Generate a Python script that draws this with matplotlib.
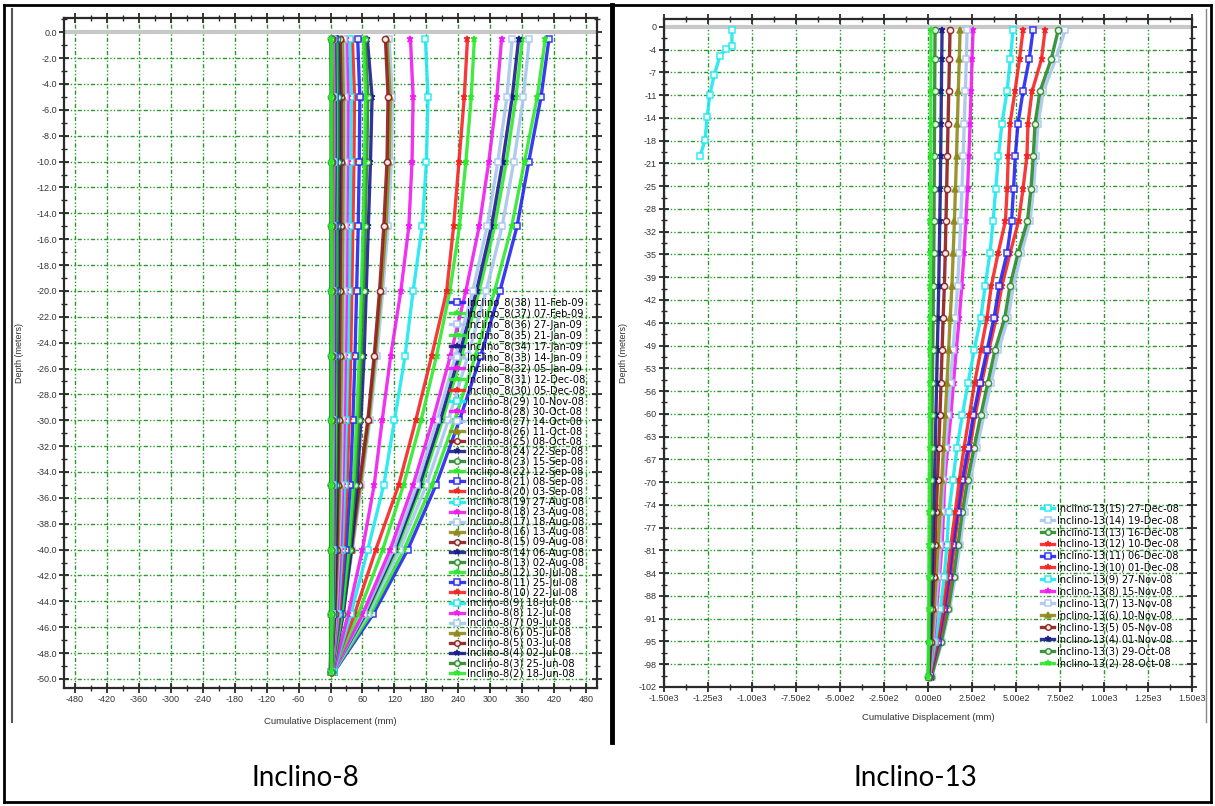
import numpy as np
import matplotlib.pyplot as plt
from matplotlib.lines import Line2D
from matplotlib.ticker import MultipleLocator, FixedLocator, AutoMinorLocator, FuncFormatter

plt.rcParams['font.family'] = ['Liberation Sans', 'DejaVu Sans']

W, H = 1215, 806

# ---------------- Inclino-8 (depth in m, displacement in mm) ----------------
depth_8 = [0.5, 5, 10, 15, 20, 25, 30, 35, 40, 45, 49.5]

labels_8 = [
    "Inclino_8(38) 11-Feb-09", "Inclino_8(37) 07-Feb-09", "Inclino_8(36) 27-Jan-09",
    "Inclino_8(35) 21-Jan-09", "Inclino_8(34) 17-Jan-09", "Inclino_8(33) 14-Jan-09",
    "Inclino_8(32) 05-Jan-09", "Inclino_8(31) 12-Dec-08", "Inclino_8(30) 05-Dec-08",
    "Inclino-8(29) 10-Nov-08", "Inclino-8(28) 30-Oct-08", "Inclino-8(27) 14-Oct-08",
    "Inclino-8(26) 11-Oct-08", "Inclino-8(25) 08-Oct-08", "Inclino-8(24) 22-Sep-08",
    "Inclino-8(23) 15-Sep-08", "Inclino-8(22) 12-Sep-08", "Inclino-8(21) 08-Sep-08",
    "Inclino-8(20) 03-Sep-08", "Inclino-8(19) 27-Aug-08", "Inclino-8(18) 23-Aug-08",
    "Inclino-8(17) 18-Aug-08", "Inclino-8(16) 13-Aug-08", "Inclino-8(15) 09-Aug-08",
    "Inclino-8(14) 06-Aug-08", "Inclino-8(13) 02-Aug-08", "Inclino-8(12) 30-Jul-08",
    "Inclino-8(11) 25-Jul-08", "Inclino-8(10) 22-Jul-08", "Inclino-8(9) 18-Jul-08",
    "Inclino-8(8) 12-Jul-08", "Inclino-8(7) 09-Jul-08", "Inclino-8(6) 05-Jul-08",
    "Inclino-8(5) 03-Jul-08", "Inclino-8(4) 02-Jul-08", "Inclino-8(3) 25-Jun-08",
    "Inclino-8(2) 18-Jun-08",
]

colors_8 = [
    "blue", "lime", "lightblue", "lime", "navy", "lightblue", "magenta", "lime", "red",
    "cyan", "magenta", "lightblue", "olive", "darkred", "navy", "darkgreen", "lime",
    "blue", "red", "cyan", "magenta", "lightblue", "olive", "darkred", "navy",
    "darkgreen", "lime", "blue", "red", "cyan", "magenta", "lightblue", "olive",
    "darkred", "navy", "darkgreen", "lime",
]

disp_8 = [
    [410, 395, 372, 350, 318, 282, 242, 198, 145, 80, 6],   # 38
    [403, 388, 364, 340, 308, 272, 233, 190, 138, 75, 5],   # 37
    [373, 362, 344, 322, 292, 258, 221, 180, 130, 70, 5],   # 36
    [360, 348, 330, 308, 279, 246, 210, 171, 124, 67, 4],   # 35
    [353, 341, 323, 302, 274, 241, 206, 167, 121, 65, 4],   # 34
    [341, 331, 314, 294, 267, 235, 200, 162, 118, 63, 4],   # 33
    [321, 312, 297, 279, 254, 225, 192, 155, 112, 60, 4],   # 32
    [270, 264, 254, 242, 224, 199, 170, 137, 98, 52, 3],    # 31
    [257, 251, 241, 231, 218, 190, 160, 128, 85, 45, 3],    # 30
    [178, 183, 180, 172, 155, 140, 120, 100, 70, 38, 6],    # 29
    [150, 155, 153, 147, 132, 113, 97, 82, 60, 33, 5],      # 28
    [110, 116, 114, 108, 98, 87, 74, 58, 41, 23, 3],        # 27
    [106, 112, 110, 104, 95, 84, 72, 56, 40, 22, 3],        # 26
    [103, 108, 106, 100, 92, 82, 70, 54, 38, 21, 3],        # 25
    [69, 78, 75, 71, 67, 63, 57, 50, 39, 24, 3],            # 24
    [65, 70, 68, 65, 62, 58, 53, 46, 36, 22, 3],            # 23
    [62, 66, 64, 61, 58, 54, 49, 43, 34, 21, 3],            # 22
    [51, 55, 54, 52, 49, 46, 42, 37, 29, 18, 2],            # 21
    [41, 45, 44, 42, 40, 38, 35, 31, 25, 16, 2],            # 20
    [36, 39, 38, 37, 35, 33, 30, 27, 22, 14, 2],            # 19
    [30, 33, 32, 31, 30, 28, 26, 23, 19, 12, 2],            # 18
    [26, 28, 28, 27, 26, 24, 22, 20, 16, 10, 1],            # 17
    [22, 24, 24, 23, 22, 21, 19, 17, 14, 9, 1],             # 16
    [18, 20, 20, 19, 18, 17, 16, 14, 12, 8, 1],             # 15
    [15, 17, 17, 16, 15, 14, 13, 12, 10, 7, 1],             # 14
    [13, 14, 14, 13, 13, 12, 11, 10, 8, 6, 1],              # 13
    [10, 11, 11, 10, 10, 9, 9, 8, 7, 5, 1],                 # 12
    [8, 9, 9, 8, 8, 8, 7, 7, 6, 4, 1],                      # 11
    [6, 7, 7, 6, 6, 6, 6, 5, 5, 3, 1],                      # 10
    [5, 6, 6, 5, 5, 5, 5, 4, 4, 3, 0],                      # 9
    [4, 5, 5, 4, 4, 4, 4, 3, 3, 2, 0],                      # 8
    [3, 4, 4, 3, 3, 3, 3, 3, 2, 2, 0],                      # 7
    [2, 3, 3, 3, 2, 2, 2, 2, 2, 1, 0],                      # 6
    [2, 2, 2, 2, 2, 2, 2, 1, 1, 1, 0],                      # 5
    [1, 2, 2, 1, 1, 1, 1, 1, 1, 1, 0],                      # 4
    [1, 1, 1, 1, 1, 1, 1, 1, 0, 0, 0],                      # 3
    [0, 0, 0, 0, 0, 0, 0, 0, 0, 0, 0],                      # 2
]

# ---------------- Inclino-13 ----------------
depth_13 = [0.5, 5, 10, 15, 20, 25, 30, 35, 40, 45, 50, 55, 60, 65, 70,
            75, 80, 85, 90, 95, 100.5]

labels_13 = [
    "Inclino-13(15) 27-Dec-08", "Inclino-13(14) 19-Dec-08", "Inclino-13(13) 16-Dec-08",
    "Inclino-13(12) 10-Dec-08", "Inclino-13(11) 06-Dec-08", "Inclino-13(10) 01-Dec-08",
    "Inclino-13(9) 27-Nov-08", "Inclino-13(8) 15-Nov-08", "Inclino-13(7) 13-Nov-08",
    "Inclino-13(6) 10-Nov-08", "Inclino-13(5) 05-Nov-08", "Inclino-13(4) 01-Nov-08",
    "Inclino-13(3) 29-Oct-08", "Inclino-13(2) 28-Oct-08",
]

colors_13 = ["cyan", "lightblue", "darkgreen", "red", "blue", "red", "cyan", "magenta",
             "lightblue", "olive", "darkred", "navy", "darkgreen", "lime"]

# reading (15) only reached ~20 m
depth_13_15 = [0.5, 3.0, 3.5, 4.5, 7.5, 10.5, 14, 17.5, 20]
disp_13_15 = [-1114, -1114, -1150, -1182, -1215, -1240, -1255, -1267, -1295]

disp_13 = [
    [780, 725, 655, 625, 612, 600, 580, 530, 485, 455, 400, 358, 318, 278, 240, 208, 182, 155, 122, 80, 20],  # 14
    [740, 700, 636, 608, 598, 585, 565, 511, 466, 436, 380, 340, 300, 262, 225, 195, 170, 145, 115, 75, 18],  # 13
    [665, 645, 591, 568, 562, 540, 515, 466, 420, 388, 345, 305, 268, 238, 205, 175, 150, 128, 100, 62, 12],  # 12
    [597, 575, 540, 511, 496, 486, 475, 449, 405, 375, 335, 295, 258, 228, 195, 168, 142, 120, 92, 58, 10],   # 11
    [540, 520, 494, 466, 456, 450, 440, 398, 360, 335, 300, 265, 235, 205, 178, 155, 130, 110, 85, 52, 8],    # 10
    [483, 468, 449, 420, 400, 385, 370, 352, 325, 300, 262, 228, 195, 165, 142, 118, 108, 92, 70, 42, 6],     # 9
    [256, 250, 245, 239, 232, 225, 215, 205, 192, 178, 160, 145, 130, 112, 95, 88, 80, 65, 48, 30, 5],        # 8
    [222, 218, 212, 206, 200, 193, 186, 178, 168, 156, 142, 128, 115, 100, 88, 78, 70, 58, 42, 26, 5],        # 7
    [182, 178, 172, 167, 162, 156, 150, 143, 136, 126, 117, 108, 98, 88, 78, 68, 57, 46, 35, 22, 4],          # 6
    [125, 122, 118, 114, 110, 106, 102, 98, 93, 86, 80, 74, 68, 61, 54, 47, 40, 33, 25, 16, 3],               # 5
    [80, 78, 76, 74, 72, 70, 67, 64, 61, 57, 53, 49, 45, 41, 37, 32, 28, 23, 18, 12, 2],                      # 4
    [40, 39, 38, 37, 36, 35, 34, 33, 31, 29, 27, 25, 23, 21, 19, 17, 15, 12, 9, 6, 1],                        # 3
    [17, 17, 16, 16, 15, 15, 14, 14, 13, 13, 12, 11, 10, 9, 8, 7, 6, 5, 4, 3, 0],                             # 2
]

xticks_13 = [-1500, -1250, -1000, -750, -500, -250, 0, 250, 500, 750, 1000, 1250, 1500]
xticklabels_13 = ["-1.50e3", "-1.25e3", "-1.00e3", "-7.50e2", "-5.00e2", "-2.50e2", "0.00e0",
                  "2.50e2", "5.00e2", "7.50e2", "1.00e3", "1.25e3", "1.50e3"]
yticklabels_13 = ["0", "-4", "-7", "-11", "-14", "-18", "-21", "-25", "-28", "-32", "-35",
                  "-39", "-42", "-46", "-49", "-53", "-56", "-60", "-63", "-67", "-70", "-74",
                  "-77", "-81", "-84", "-88", "-91", "-95", "-98", "-102"]

# ---------------- styling ----------------
palette = {
    "lime": "#2ee82e", "darkgreen": "#2a8a2a", "navy": "#1c1c8c", "darkred": "#8e1c1c",
    "olive": "#8f8a1c", "lightblue": "#a9c6ee", "magenta": "#f01cf0", "cyan": "#1ee8f0",
    "red": "#f52424", "blue": "#2424f0",
}
marker_of = {
    "lime": "*", "darkgreen": "o", "navy": "*", "darkred": "o", "olive": "^",
    "lightblue": "s", "magenta": "*", "cyan": "s", "red": "*", "blue": "s",
}
open_markers = {"o", "s"}


def draw_series(ax, x, y, cname, label):
    c = palette[cname]
    m = marker_of[cname]
    ax.plot(x, y, color=c, lw=2.4, marker=m, ms=4.5,
            mfc="white" if m in open_markers else c, mec=c, mew=1.1,
            label=label, alpha=0.9)


GRID_LS = (0, (3, 1.5, 1, 1.5, 1, 1.5))


def style_axes(ax):
    for s in ax.spines.values():
        s.set_linewidth(1.6)
        s.set_color("#2a2a2a")
    ax.tick_params(which="both", direction="inout", top=True, right=True,
                   labelsize=6.5, pad=1.5, color="#2a2a2a", labelcolor="#333333")
    ax.tick_params(which="major", length=7, width=1.3)
    ax.tick_params(which="minor", length=4, width=1.0)
    ax.grid(True, which="major", color="#2a9a2a", linestyle=GRID_LS, linewidth=1.0)
    ax.set_axisbelow(True)
    ax.axhline(0, color="#c8c8c8", lw=3, zorder=1.5)


fig = plt.figure(figsize=(W / 100, H / 100), dpi=100)

# ---- left chart ----
ax1 = fig.add_axes([64 / W, 1 - 688 / H, 533 / W, 670 / H])
style_axes(ax1)
neg_depth_8 = [-d for d in depth_8]
for vals, cname, lab in zip(disp_8, colors_8, labels_8):
    draw_series(ax1, vals, neg_depth_8, cname, lab)
ax1.set_xlim(-500, 500)
ax1.set_ylim(-50.7, 1.1)
ax1.xaxis.set_major_locator(MultipleLocator(60))
ax1.xaxis.set_minor_locator(MultipleLocator(30))
ax1.yaxis.set_major_locator(MultipleLocator(2))
ax1.yaxis.set_minor_locator(MultipleLocator(1))
ax1.yaxis.set_major_formatter(FuncFormatter(lambda v, _: f"{v + 0:.1f}"))
ax1.xaxis.set_major_formatter(FuncFormatter(lambda v, _: f"{int(round(v))}"))
ax1.set_ylabel("Depth (meters)", fontsize=6.5, color="#333333")
ax1.yaxis.set_label_coords(-0.075, 0.5)
ax1.set_xlabel("Cumulative Displacement (mm)", fontsize=6.8, color="#333333")
ax1.xaxis.set_label_coords(0.5, -0.043)
ax1.legend(loc="lower right", bbox_to_anchor=(0.985, 0.008),
           prop={"family": "DejaVu Sans", "size": 7.1},
           frameon=False, labelspacing=0.01, handlelength=1.4, handletextpad=0.3,
           borderaxespad=0, markerscale=0.9)

# ---- right chart ----
ax2 = fig.add_axes([664 / W, 1 - 687 / H, 528 / W, 668 / H])
style_axes(ax2)
draw_series(ax2, disp_13_15, [-d for d in depth_13_15], colors_13[0], labels_13[0])
neg_depth_13 = [-d for d in depth_13]
for vals, cname, lab in zip(disp_13, colors_13[1:], labels_13[1:]):
    draw_series(ax2, vals, neg_depth_13, cname, lab)
ax2.set_xlim(-1500, 1500)
ax2.set_ylim(-102, 1.2)
ax2.set_xticks(xticks_13)
ax2.set_xticklabels(xticklabels_13)
ax2.xaxis.set_minor_locator(AutoMinorLocator(2))
ax2.yaxis.set_major_locator(FixedLocator(np.linspace(0, -102, len(yticklabels_13))))
ax2.set_yticklabels(yticklabels_13)
ax2.yaxis.set_minor_locator(AutoMinorLocator(2))
ax2.set_ylabel("Depth (meters)", fontsize=6.5, color="#333333")
ax2.yaxis.set_label_coords(-0.068, 0.5)
ax2.set_xlabel("Cumulative Displacement (mm)", fontsize=6.8, color="#333333")
ax2.xaxis.set_label_coords(0.5, -0.039)
ax2.legend(loc="lower right", bbox_to_anchor=(0.983, 0.022),
           prop={"family": "DejaVu Sans", "size": 7.0},
           frameon=False, labelspacing=0.2, handlelength=1.4, handletextpad=0.3,
           borderaxespad=0, markerscale=0.9)


# ---- page frame and captions ----
def fline(x0, y0, x1, y1, lw, color="black"):
    fig.add_artist(Line2D([x0 / W, x1 / W], [1 - y0 / H, 1 - y1 / H],
                          lw=lw, color=color, transform=fig.transFigure))


fline(4, 5, 1211, 5, 2.0)
fline(4, 5, 4, 802, 2.0)
fline(1211, 5, 1211, 802, 2.0)
fline(4, 802, 1211, 802, 2.0)
fline(612, 5, 612, 742, 3.5)
fline(12, 9, 12, 722, 1.5, "#555555")
fline(1206, 9, 1206, 722, 1.0, "#888888")

fig.text(305 / W, 1 - 778 / H, "Inclino-8", fontsize=20, family="Lato",
         ha="center", va="center")
fig.text(915 / W, 1 - 778 / H, "Inclino-13", fontsize=20, family="Lato",
         ha="center", va="center")

fig.savefig("out.png", dpi=100)
